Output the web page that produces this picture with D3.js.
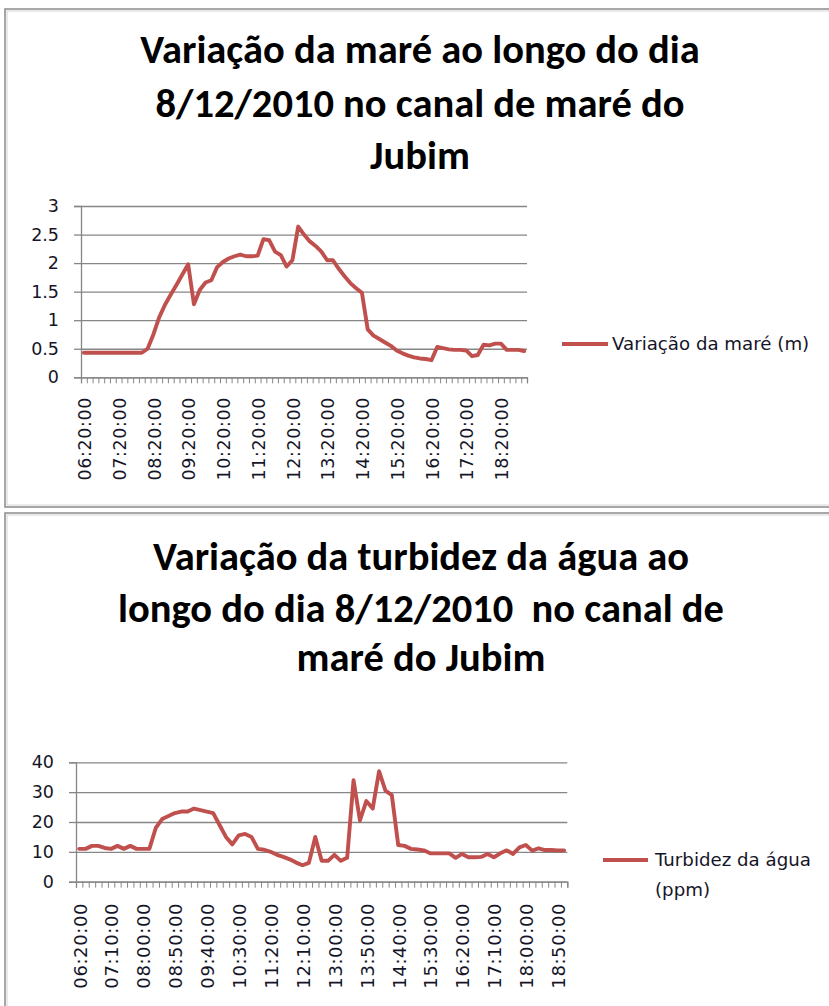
<!DOCTYPE html>
<html>
<head>
<meta charset="utf-8">
<script src="https://cdn.jsdelivr.net/npm/d3@7"></script>
<style>
  body { margin: 0; background: #fff; }
  svg { display: block; }
</style>
</head>
<body>
<svg id="chart" width="829" height="1006"></svg>
<script>
// horários de medição (a cada 10 min)
const horarios = [
  "06:20:00","06:30:00","06:40:00","06:50:00","07:00:00","07:10:00","07:20:00","07:30:00","07:40:00","07:50:00",
  "08:00:00","08:10:00","08:20:00","08:30:00","08:40:00","08:50:00","09:00:00","09:10:00","09:20:00","09:30:00",
  "09:40:00","09:50:00","10:00:00","10:10:00","10:20:00","10:30:00","10:40:00","10:50:00","11:00:00","11:10:00",
  "11:20:00","11:30:00","11:40:00","11:50:00","12:00:00","12:10:00","12:20:00","12:30:00","12:40:00","12:50:00",
  "13:00:00","13:10:00","13:20:00","13:30:00","13:40:00","13:50:00","14:00:00","14:10:00","14:20:00","14:30:00",
  "14:40:00","14:50:00","15:00:00","15:10:00","15:20:00","15:30:00","15:40:00","15:50:00","16:00:00","16:10:00",
  "16:20:00","16:30:00","16:40:00","16:50:00","17:00:00","17:10:00","17:20:00","17:30:00","17:40:00","17:50:00",
  "18:00:00","18:10:00","18:20:00","18:30:00","18:40:00","18:50:00","19:00:00"
];

// Variação da maré (m)
const mare = [
  0.43,0.43,0.43,0.43,0.43,0.43,0.43,0.43,0.43,0.43,
  0.43,0.5,0.75,1.05,1.27,1.45,1.62,1.8,1.98,1.28,
  1.53,1.66,1.7,1.93,2.02,2.08,2.12,2.15,2.12,2.12,
  2.13,2.42,2.4,2.2,2.14,1.94,2.05,2.64,2.5,2.38,
  2.3,2.2,2.05,2.05,1.9,1.77,1.65,1.56,1.48,0.84,
  0.73,0.67,0.61,0.55,0.47,0.42,0.38,0.35,0.33,0.32,
  0.3,0.53,0.51,0.49,0.48,0.48,0.47,0.37,0.39,0.57,
  0.56,0.59,0.59,0.48,0.48,0.48,0.46
];

// Turbidez da água (ppm)
const turbidez = [
  11,11,12,12,11.3,11,12,11,12,11,
  11,11,18,21,22,23,23.5,23.5,24.5,24,
  23.5,23,19,15,12.5,15.5,16,15,11,10.7,
  10,9,8.3,7.5,6.4,5.5,6.3,15,7,7,
  9,7,8,34,20.5,27,24.5,37,30.5,29,
  12.3,12,11,10.8,10.5,9.5,9.5,9.5,9.5,8,
  9.3,8.2,8.2,8.3,9.3,8.2,9.5,10.5,9.3,11.5,
  12.3,10.4,11.2,10.6,10.6,10.5,10.5
];

const mareTicksY = [0, 0.5, 1, 1.5, 2, 2.5, 3];
const turbTicksY = [0, 10, 20, 30, 40];

const mareLabelsX = ["06:20:00","07:20:00","08:20:00","09:20:00","10:20:00","11:20:00","12:20:00",
                     "13:20:00","14:20:00","15:20:00","16:20:00","17:20:00","18:20:00"];
const turbLabelsX = ["06:20:00","07:10:00","08:00:00","08:50:00","09:40:00","10:30:00","11:20:00","12:10:00",
                     "13:00:00","13:50:00","14:40:00","15:30:00","16:20:00","17:10:00","18:00:00","18:50:00"];

const mareTitulo = ["Variação da maré ao longo do dia", "8/12/2010 no canal de maré do", "Jubim"];
const turbTitulo = ["Variação da turbidez da água ao", "longo do dia 8/12/2010  no canal de", "maré do Jubim"];
const mareLegenda = ["Variação da maré (m)"];
const turbLegenda = ["Turbidez da água", "(ppm)"];

const svg = d3.select("#chart");
const lineColor = "#c0504d";
const axisColor = "#868686";
const textColor = "#151528";
const tickFont = "'DejaVu Sans', Verdana, sans-serif";
const titleFont = "Carlito, Calibri, Lato, sans-serif";

function drawChart(cfg) {
  const g = svg.append("g");

  // moldura do gráfico
  g.append("rect").attr("x", cfg.box.x).attr("y", cfg.box.y)
   .attr("width", cfg.box.w).attr("height", cfg.box.h)
   .attr("fill", "none").attr("stroke", "#8a8a8a").attr("stroke-width", 1.5);
  g.append("rect").attr("x", cfg.box.x + 2).attr("y", cfg.box.y + 2)
   .attr("width", cfg.box.w - 4).attr("height", cfg.box.h - 4)
   .attr("fill", "none").attr("stroke", "#d4d4d4").attr("stroke-width", 1);

  const x = d3.scaleBand().domain(horarios).range([cfg.left, cfg.right]).padding(0);
  const xTicks = d3.scaleLinear().domain([0, horarios.length]).range([cfg.left, cfg.right]);
  const y = d3.scaleLinear().domain(cfg.yDomain).range([cfg.bottom, cfg.top]);

  // gridlines
  g.append("g").attr("transform", `translate(${cfg.left},0)`)
   .call(d3.axisLeft(y).tickValues(cfg.yTicks).tickSize(-(cfg.right - cfg.left)).tickFormat(""))
   .call(s => s.select(".domain").remove())
   .selectAll("line").attr("stroke", axisColor).attr("stroke-width", 1.3);

  // eixo Y
  g.append("g").attr("transform", `translate(${cfg.left},0)`)
   .call(d3.axisLeft(y).tickValues(cfg.yTicks).tickSize(7).tickPadding(15).tickFormat(d3.format("")))
   .call(s => s.select(".domain").attr("stroke", axisColor).attr("stroke-width", 1.3))
   .call(s => s.selectAll("line").attr("stroke", axisColor).attr("stroke-width", 1.3))
   .call(s => s.selectAll("text").attr("fill", textColor)
                .style("font-family", tickFont).style("font-size", cfg.tickSize + "px"));

  // marcas do eixo X (limites das categorias)
  g.append("g").attr("transform", `translate(0,${cfg.bottom})`)
   .call(d3.axisBottom(xTicks).tickValues(d3.range(horarios.length + 1)).tickSize(6).tickFormat(""))
   .call(s => s.select(".domain").attr("stroke", axisColor).attr("stroke-width", 1.3))
   .selectAll("line").attr("stroke", axisColor).attr("stroke-width", 1);

  // rótulos do eixo X
  g.append("g").attr("transform", `translate(0,${cfg.bottom})`)
   .call(d3.axisBottom(x).tickValues(cfg.xLabels).tickSize(0).tickPadding(0))
   .call(s => s.select(".domain").remove())
   .selectAll("text")
   .attr("fill", textColor)
   .style("font-family", tickFont).style("font-size", cfg.xLabelSize + "px")
   .style("letter-spacing", "0.6px")
   .attr("text-anchor", "end")
   .attr("dy", "0.35em")
   .attr("y", 0)
   .attr("transform", `translate(1,${cfg.labelTop - cfg.bottom}) rotate(-90)`);

  // linha da série
  const line = d3.line()
    .x((d, i) => x(horarios[i]) + x.bandwidth() / 2)
    .y(d => y(d));
  g.append("path").datum(cfg.values)
   .attr("d", line)
   .attr("fill", "none")
   .attr("stroke", lineColor)
   .attr("stroke-width", 3.9)
   .attr("stroke-linejoin", "round")
   .attr("stroke-linecap", "round");

  // título
  const title = g.append("g");
  cfg.title.forEach((t, i) => {
    title.append("text")
      .attr("x", cfg.titleX).attr("y", cfg.titleY[i])
      .attr("text-anchor", "middle")
      .attr("fill", "#000")
      .style("white-space", "pre")
      .style("font-family", titleFont).style("font-weight", "bold")
      .style("font-size", cfg.titleSize + "px")
      .text(t);
  });

  // legenda
  g.append("line")
   .attr("x1", cfg.legend.x1).attr("x2", cfg.legend.x2)
   .attr("y1", cfg.legend.y).attr("y2", cfg.legend.y)
   .attr("stroke", lineColor).attr("stroke-width", 3.9);
  cfg.legendText.forEach((t, i) => {
    g.append("text")
     .attr("x", cfg.legend.tx).attr("y", cfg.legend.y + i * 30)
     .attr("dy", "0.35em")
     .attr("fill", textColor)
     .style("font-family", tickFont).style("font-size", cfg.legendSize + "px")
     .text(t);
  });
}

drawChart({
  box: {x: 5, y: 9, w: 840, h: 498},
  left: 81, right: 527, top: 206, bottom: 377.3,
  yDomain: [0, 3], yTicks: mareTicksY,
  values: mare, xLabels: mareLabelsX, labelTop: 397,
  tickSize: 17.5, xLabelSize: 17.5,
  title: mareTitulo, titleX: 420, titleY: [63, 117, 169], titleSize: 40.5,
  legend: {x1: 562, x2: 608, y: 344, tx: 612}, legendText: mareLegenda, legendSize: 18.2
});

drawChart({
  box: {x: 5, y: 513, w: 840, h: 520},
  left: 76, right: 567.3, top: 762.3, bottom: 881.7,
  yDomain: [0, 40], yTicks: turbTicksY,
  values: turbidez, xLabels: turbLabelsX, labelTop: 903,
  tickSize: 17.5, xLabelSize: 18,
  title: turbTitulo, titleX: 421, titleY: [570, 622, 671], titleSize: 40.5,
  legend: {x1: 603, x2: 648, y: 860, tx: 655}, legendText: turbLegenda, legendSize: 18.2
});
</script>
</body>
</html>
